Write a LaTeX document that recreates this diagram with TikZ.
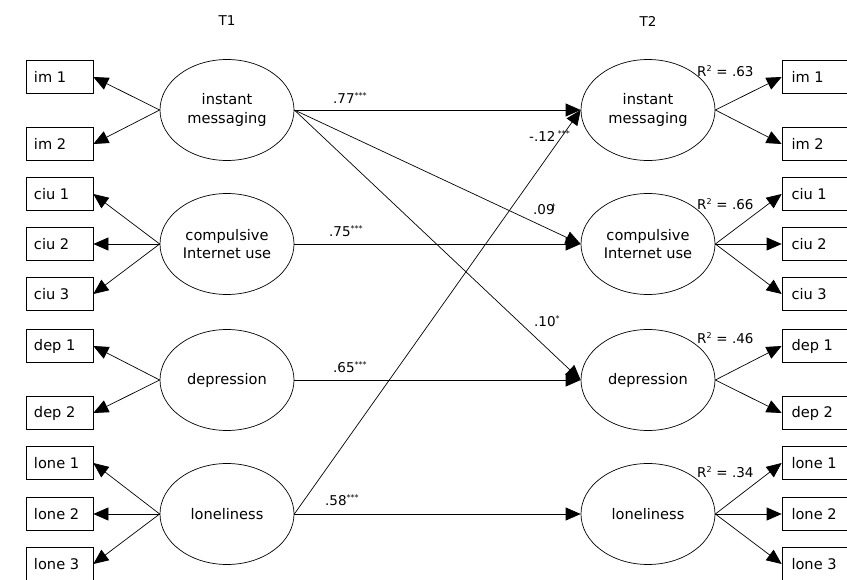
\documentclass[tikz,border=0pt]{standalone}
\usepackage{fontspec}
\setmainfont{DejaVu Sans}
\usetikzlibrary{arrows.meta,shapes.geometric}
\begin{document}
\begin{tikzpicture}[x=1pt,y=-1pt,
  font=\fontsize{13.5}{18.5}\selectfont,
  lat/.style={draw,ellipse,minimum width=134pt,minimum height=101pt,inner sep=0pt,align=center,line width=0.7pt,font=\fontsize{14.6}{18.5}\selectfont},
  obs/.style={draw,rectangle,minimum width=67pt,minimum height=33pt,inner sep=0pt,line width=0.7pt,font=\fontsize{14.6}{18.5}\selectfont},
  arr/.style={line width=0.7pt,-{Triangle[length=15pt,width=13pt]}},
  lbl/.style={anchor=west,inner sep=0pt}]
\useasboundingbox (0,0) rectangle (847,580);
\newcommand{\bx}[1]{\makebox[51pt][l]{#1}}
\newcommand{\st}[1]{\textsuperscript{\fontsize{8}{8}\selectfont #1}}
\node at (227,21) {T1};
\node at (648,21) {T2};
% left latent
\node[lat] (imA) at (227,110) {instant\\messaging};
\node[lat] (ciuA) at (227,244) {compulsive\\Internet use};
\node[lat] (depA) at (227,380) {depression};
\node[lat] (loA) at (227,514) {loneliness};
% right latent
\node[lat] (imB) at (648,110) {instant\\messaging};
\node[lat] (ciuB) at (648,244) {compulsive\\Internet use};
\node[lat] (depB) at (648,380) {depression};
\node[lat] (loB) at (648,514) {loneliness};
% left boxes
\node[obs] (Lim1) at (59.5,77) {\bx{im 1}};
\node[obs] (Lim2) at (59.5,144) {\bx{im 2}};
\node[obs] (Lciu1) at (59.5,194) {\bx{ciu 1}};
\node[obs] (Lciu2) at (59.5,244) {\bx{ciu 2}};
\node[obs] (Lciu3) at (59.5,294) {\bx{ciu 3}};
\node[obs] (Ldep1) at (59.5,346) {\bx{dep 1}};
\node[obs] (Ldep2) at (59.5,413) {\bx{dep 2}};
\node[obs] (Llo1) at (59.5,463) {\bx{lone 1}};
\node[obs] (Llo2) at (59.5,514) {\bx{lone 2}};
\node[obs] (Llo3) at (59.5,564) {\bx{lone 3}};
% right boxes
\node[obs] (Rim1) at (815.5,77) {\hspace{3pt}\bx{im 1}};
\node[obs] (Rim2) at (815.5,144) {\hspace{3pt}\bx{im 2}};
\node[obs] (Rciu1) at (815.5,194) {\hspace{3pt}\bx{ciu 1}};
\node[obs] (Rciu2) at (815.5,244) {\hspace{3pt}\bx{ciu 2}};
\node[obs] (Rciu3) at (815.5,294) {\hspace{3pt}\bx{ciu 3}};
\node[obs] (Rdep1) at (815.5,346) {\hspace{3pt}\bx{dep 1}};
\node[obs] (Rdep2) at (815.5,413) {\hspace{3pt}\bx{dep 2}};
\node[obs] (Rlo1) at (815.5,463) {\hspace{3pt}\bx{lone 1}};
\node[obs] (Rlo2) at (815.5,514) {\hspace{3pt}\bx{lone 2}};
\node[obs] (Rlo3) at (815.5,564) {\hspace{3pt}\bx{lone 3}};
% measurement arrows left
\draw[arr] (imA.west) -- (Lim1.east);
\draw[arr] (imA.west) -- (Lim2.east);
\draw[arr] (ciuA.west) -- (Lciu1.east);
\draw[arr] (ciuA.west) -- (Lciu2.east);
\draw[arr] (ciuA.west) -- (Lciu3.east);
\draw[arr] (depA.west) -- (Ldep1.east);
\draw[arr] (depA.west) -- (Ldep2.east);
\draw[arr] (loA.west) -- (Llo1.east);
\draw[arr] (loA.west) -- (Llo2.east);
\draw[arr] (loA.west) -- (Llo3.east);
% measurement arrows right
\draw[arr] (imB.east) -- (Rim1.west);
\draw[arr] (imB.east) -- (Rim2.west);
\draw[arr] (ciuB.east) -- (Rciu1.west);
\draw[arr] (ciuB.east) -- (Rciu2.west);
\draw[arr] (ciuB.east) -- (Rciu3.west);
\draw[arr] (depB.east) -- (Rdep1.west);
\draw[arr] (depB.east) -- (Rdep2.west);
\draw[arr] (loB.east) -- (Rlo1.west);
\draw[arr] (loB.east) -- (Rlo2.west);
\draw[arr] (loB.east) -- (Rlo3.west);
% structural paths
\draw[arr] (imA.east) -- (imB.west);
\draw[arr] (ciuA.east) -- (ciuB.west);
\draw[arr] (depA.east) -- (depB.west);
\draw[arr] (loA.east) -- (loB.west);
\draw[arr] (imA.east) -- (ciuB.west);
\draw[arr] (imA.east) -- (depB.west);
\draw[arr] (loA.east) -- (imB.west);
% path labels
\node[lbl] (l77) at (333,98) {.77\st{***}};
\node[lbl] (l75) at (329,231) {.75\st{***}};
\node[lbl] (l65) at (333,367) {.65\st{***}};
\node[lbl] (l58) at (325,500) {.58\st{***}};
\node[lbl] (l12) at (529,136) {-.12\,\st{***}};
\node[lbl] (l09) at (533,209) {.09\kern-3pt\st{†}};
\node[lbl] (l10) at (534,321) {.10\st{*}};
% R squared
\node[lbl] (r1) at (697,71) {R\st{2} = .63};
\node[lbl] (r2) at (697,204) {R\st{2} = .66};
\node[lbl] (r3) at (697,338) {R\st{2} = .46};
\node[lbl] (r4) at (697,472) {R\st{2} = .34};
\end{tikzpicture}
\end{document}
